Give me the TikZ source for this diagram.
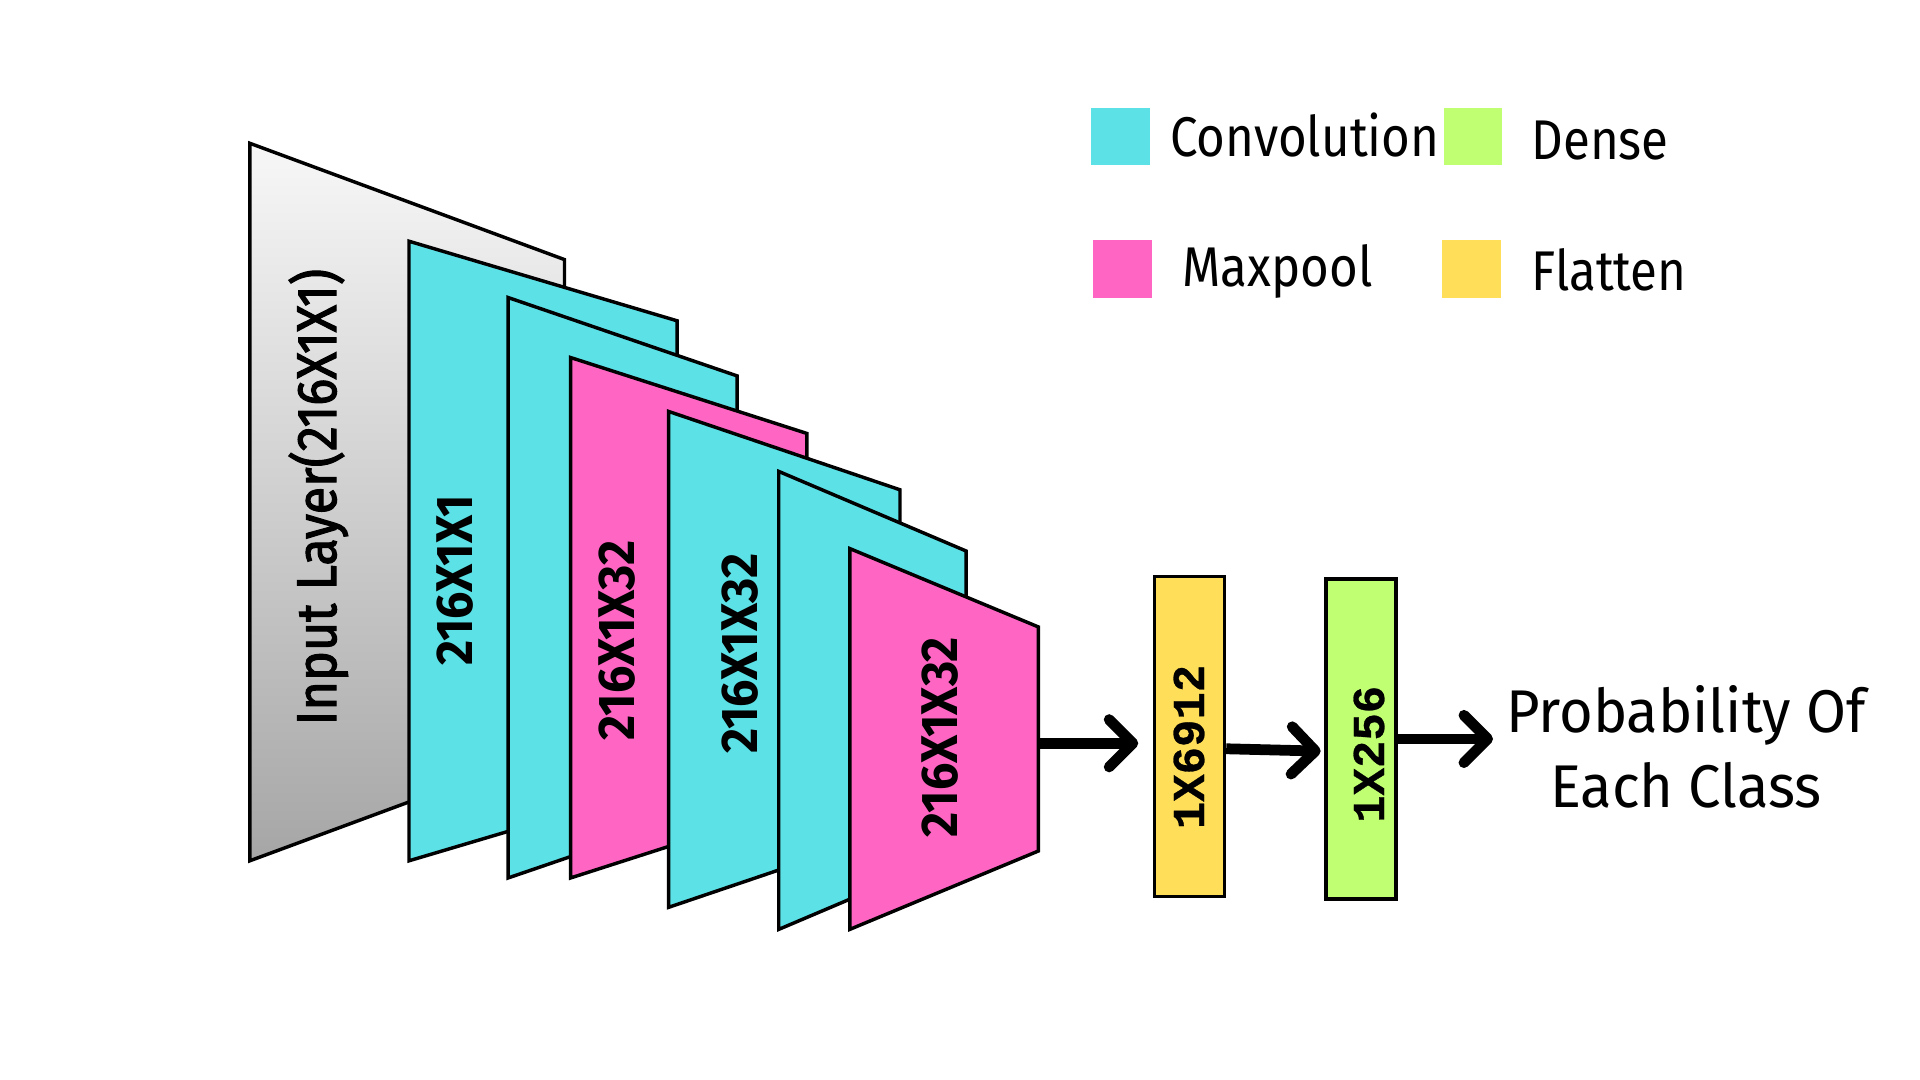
\documentclass[tikz,border=0pt]{standalone}
\usepackage{fontspec}
\setmainfont{Fira Sans}
\newfontfamily\txtfont[FakeStretch=0.88]{Fira Sans}
\newfontfamily\outfont[FakeStretch=0.96]{Fira Sans}
\newfontfamily\inpfont[FakeStretch=0.9,FakeBold=2]{Fira Sans}
\newfontfamily\labfont[FakeStretch=0.94]{Fira Sans}
\newfontfamily\codefont[FakeBold=0.6]{Liberation Mono}
\usetikzlibrary{arrows.meta}
\definecolor{convc}{HTML}{5CE1E6}
\definecolor{poolc}{HTML}{FF66C4}
\definecolor{flatc}{HTML}{FFDE59}
\definecolor{densec}{HTML}{C1FF72}
\tikzset{
  layerbox/.style={draw=black,line width=0.8pt,line join=miter},
  legsq/.style={rectangle,inner sep=0pt,minimum width=0.48cm,minimum height=0.47cm},
  legtxt/.style={anchor=west,inner sep=0pt,font=\txtfont\fontsize{13}{15}\selectfont},
  laytxt/.style={rotate=90,inner sep=0pt,font=\labfont\bfseries\fontsize{12}{14}\selectfont},
  vecbox/.style={rectangle,draw=black,line width=0.8pt,inner sep=0pt,minimum width=0.57cm,minimum height=2.61cm},
  vectxt/.style={rotate=90,inner sep=0pt,font=\codefont\bfseries\fontsize{10.6}{12}\selectfont},
  arr/.style={line width=2.5pt,-{Straight Barb[length=5.5pt,width=11pt,round]}}
}
\begin{document}
\begin{tikzpicture}[x=0.01cm,y=-0.01cm]
\useasboundingbox (0,0) rectangle (1568,882);
% input layer
\shade[top color=white!97!black,bottom color=black!35,layerbox] (204,117) -- (461,212) -- (461,608) -- (204,703) -- cycle;
\node[rotate=90,inner sep=0pt,font=\inpfont\fontsize{13}{15}\selectfont] (inlab) at (260,406) {Input Layer(216X1X1)};
% conv 1
\filldraw[fill=convc,layerbox] (334,197) -- (553,262) -- (553,638) -- (334,703) -- cycle;
\node[laytxt] (c1lab) at (372,474) {216X1X1};
% conv 2
\filldraw[fill=convc,layerbox] (415,243) -- (602,307) -- (602,653) -- (415,717) -- cycle;
% maxpool 1
\filldraw[fill=poolc,layerbox] (466,292) -- (659,354) -- (659,655) -- (466,717) -- cycle;
\node[laytxt] (p1lab) at (504,523) {216X1X32};
% conv 3
\filldraw[fill=convc,layerbox] (546,336) -- (735,400) -- (735,677) -- (546,741) -- cycle;
\node[laytxt] (c3lab) at (604,534) {216X1X32};
% conv 4
\filldraw[fill=convc,layerbox] (636,385) -- (789,450) -- (789,694) -- (636,759) -- cycle;
% maxpool 2
\filldraw[fill=poolc,layerbox] (694,448) -- (848,512) -- (848,695) -- (694,759) -- cycle;
\node[laytxt] (p2lab) at (768,602) {216X1X32};
\coordinate (mp2) at (848,607);
% flatten and dense
\node[vecbox,fill=flatc] (flatbox) at (971.5,601.5) {};
\node[vectxt] (flatlab) at (971,610) {1X6912};
\node[vecbox,fill=densec] (densebox) at (1111.5,603.5) {};
\node[vectxt] (denselab) at (1118,616) {1X256};
% output text
\node[align=center,inner sep=0pt,font=\outfont\fontsize{14}{17.5}\selectfont] (out) at (1377,610) {Probability Of\\Each Class};
% arrows
\draw[arr,shorten >=0.12cm] (mp2) -- (flatbox.west |- mp2);
\draw[arr,shorten >=0.03cm] ([yshift=-0.1cm]flatbox.east) -- ([yshift=-0.1cm]densebox.west);
\draw[arr,shorten >=0.1cm] (densebox.east) -- (densebox.east -| out.west);
% legend
\node[legsq,fill=convc] (lgconv) at (915,111.5) {};
\node[legtxt] (lgconvt) at (955,110) {Convolution};
\node[legsq,fill=densec] (lgdense) at (1203,111.5) {};
\node[legtxt] (lgdenset) at (1250,115) {Dense};
\node[legsq,fill=poolc] (lgpool) at (916.5,219.5) {};
\node[legtxt] (lgpoolt) at (965,222) {Maxpool};
\node[legsq,fill=flatc] (lgflat) at (1202,219.5) {};
\node[legtxt] (lgflatt) at (1250,220) {Flatten};
\end{tikzpicture}
\end{document}
